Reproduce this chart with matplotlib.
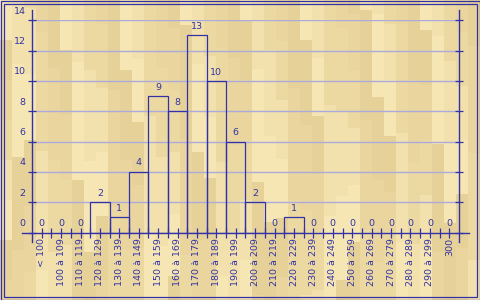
import matplotlib
matplotlib.use('Agg')
import numpy as np
import matplotlib.pyplot as plt
from matplotlib.patches import Rectangle
from matplotlib.colors import to_rgb

# Datos del histograma
categorias = ['< 100', '100 à 109', '110 à 119', '120 à 129', '130 à 139', '140 à 149',
              '150 à 159', '160 à 169', '170 à 179', '180 à 189', '190 à 199', '200 à 209',
              '210 à 219', '220 à 229', '230 à 239', '240 à 249', '250 à 259', '260 à 269',
              '270 à 279', '280 à 289', '290 à 299', '300']
valores = [0, 0, 0, 2, 1, 4, 9, 8, 13, 10, 6, 2, 0, 1, 0, 0, 0, 0, 0, 0, 0, 0]
ticks_y = [0, 2, 4, 6, 8, 10, 12, 14]

AZUL = '#3232a6'
GRILLA = '#aaaadc'
FONDO = '#efdeab'
TONOS = ['#f6e6b4', '#ecd9a2', '#e6d298', '#f2e1ac', '#e9d59d']
FS = 6.8

W, H = 480, 300
fig = plt.figure(figsize=(4.8, 3.0), dpi=100, facecolor=FONDO)

# Fondo tipo madera (tablas verticales, patron fijo)
fondo = np.zeros((H, W, 3))
ancho_tabla = 12
for c in range(W // ancho_tabla + 1):
    largo = 40 + (c * 53) % 80
    y0 = -((c * 29) % largo)
    seg = 0
    while y0 < H:
        tono = np.array(to_rgb(TONOS[(c * 3 + seg * 2) % len(TONOS)]))
        fondo[max(y0, 0):y0 + largo, c * ancho_tabla:(c + 1) * ancho_tabla] = tono
        y0 += largo
        seg += 1
ax_bg = fig.add_axes([0, 0, 1, 1], zorder=-1)
ax_bg.imshow(fondo, aspect='auto', interpolation='nearest')
ax_bg.axis('off')

ax = fig.add_axes([32 / W, 1 - 232.6 / H, (459 - 32) / W, (232.6 - 20.3) / H])
ax.set_facecolor('none')

n = len(categorias)
xs = list(range(n))
ax.set_xlim(-0.5, n - 0.5)
ax.set_ylim(0, 14)

# Grilla horizontal
for t in ticks_y[1:]:
    ax.axhline(t, color=GRILLA, lw=1.0, zorder=1)

# Barras (solo contorno)
for x, v in zip(xs, valores):
    if v > 0:
        ax.add_patch(Rectangle((x - 0.5, 0), 1, v, fill=False, edgecolor=AZUL, lw=0.9, zorder=3))
    ax.annotate(str(v), (x, v), xytext=(0, 3.2), textcoords='offset points',
                ha='center', va='bottom', fontsize=FS, color=AZUL)

# Ejes extendidos
px_x = 1 / 19.43
px_y = 1 / 15.16
ax.plot([-0.5 - 10 * px_x, n - 0.5 + 10 * px_x], [0, 0], color=AZUL, lw=1.0, clip_on=False, zorder=4)
for xe in (-0.5, n - 0.5):
    ax.plot([xe, xe], [-9.5 * px_y, 14 + 10.3 * px_y], color=AZUL, lw=1.0, clip_on=False, zorder=4)
for s in ax.spines.values():
    s.set_visible(False)

# Marcas del eje x
ax.set_xticks(xs)
ax.set_xticks([x - 0.5 for x in xs[1:]], minor=True)
ax.set_xticklabels(categorias, rotation=90, fontsize=FS, color=AZUL)
ax.tick_params(axis='x', which='both', direction='inout', length=7, width=0.9, color=AZUL, pad=0.5)

# Marcas del eje y (izquierda y derecha)
ax.set_yticks(ticks_y)
ax.set_yticklabels([])
ax.tick_params(axis='y', which='both', direction='inout', length=6, width=0.9, color=AZUL,
               left=True, right=True)
for t in ticks_y:
    ax.annotate(str(t), (-0.5, t), xytext=(-4.5, 6.5), textcoords='offset points',
                ha='right', va='center', fontsize=FS, color=AZUL)

# Marco doble
for ins in (0.5, 3.5):
    fig.patches.append(Rectangle((ins / W, ins / H), 1 - 2 * ins / W, 1 - 2 * ins / H,
                                 transform=fig.transFigure, fill=False, edgecolor=AZUL, lw=0.9))

fig.savefig('out.png', dpi=100, facecolor=FONDO)
